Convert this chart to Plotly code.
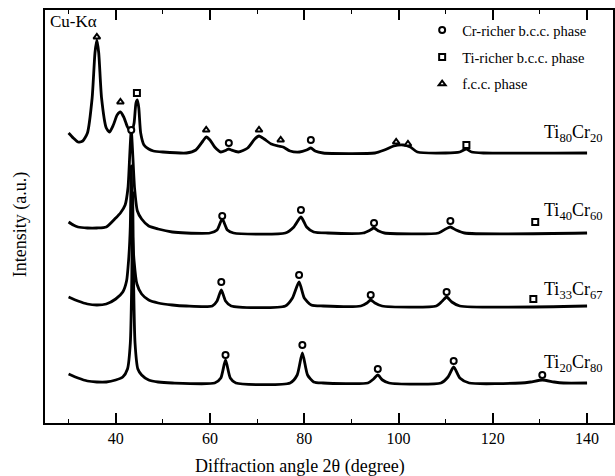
import plotly.graph_objects as go

# ---- data ----
# vertical offsets of the four patterns (a.u.)
offsets = {"Ti80Cr20": 270, "Ti40Cr60": 190, "Ti33Cr67": 117, "Ti20Cr80": 40}

ti80_x = [30, 31, 32, 33, 34, 35, 35.6, 36, 36.4, 37, 38, 38.7, 39.5, 40.3, 41, 41.7, 42.5, 43.3, 43.9,
          44.3, 44.6, 44.9, 45.3, 46, 47, 48, 50, 55, 57, 58.5, 59.2, 60, 61, 62.3, 63.5, 64, 64.5, 66,
          68, 69.5, 70.4, 71.5, 73, 74.5, 75.5, 77, 79, 80.5, 81.4, 82.3, 84, 95, 97, 99, 101, 102.5,
          104, 110, 113, 114.4, 115.5, 118, 140]
ti80_y = [20, 15, 11, 12, 20, 55, 100, 113, 100, 55, 25, 21, 28, 38, 41, 36, 26, 20, 30,
          50, 53, 45, 20, 8, 4, 2, 1, 0, 3, 12, 16, 13, 6, 1, 3, 4, 3, 1,
          5, 14, 17, 14, 9, 7, 6, 2, 1, 3, 5, 2, 0, 0, 3, 7, 8, 6,
          1, 0, 1, 4, 1, 0, 0]

ti40_x = [30, 31, 32, 34, 36, 38, 40, 41, 42, 42.6, 43.0, 43.3, 43.6, 44.0, 44.6, 45.5, 47, 49, 52, 55,
          60, 61.5, 62.6, 63.7, 65, 76, 77.8, 79.3, 80.5, 82, 85, 92.5, 94, 94.8, 95.8, 97, 108.5, 110,
          111, 112.2, 114, 140]
ti40_y = [11, 8, 6, 5, 5, 6, 15, 20, 28, 45, 80, 103, 80, 45, 22, 14, 7, 4, 1, 0,
          0, 3, 14, 3, 0, 0, 6, 16, 6, 1, 0, 0, 3, 5, 2, 0, 0, 4,
          6, 3, 0, 0]

ti33_x = [30, 32, 34, 36, 38, 40, 41.5, 42.3, 42.8, 43.1, 43.3, 43.5, 43.9, 44.5, 45.5, 47, 49, 52, 55,
          60.5, 61.5, 62.4, 63.3, 64.5, 76, 77.5, 78.9, 80, 81.5, 84, 92, 93.3, 94.1, 95, 96.5, 108,
          109.3, 110.2, 111.3, 113, 140]
ti33_y = [9, 5, 2, 1, 2, 7, 14, 25, 50, 80, 140, 80, 45, 22, 12, 6, 3, 1, 0,
          0, 5, 16, 5, 0, 0, 8, 24, 8, 1, 0, 0, 3, 6, 3, 0, 0,
          5, 9, 4, 0, 0]

ti20_x = [30, 32, 34, 36, 38, 40, 41.5, 42.5, 43.1, 43.4, 43.6, 43.8, 44.1, 44.7, 45.5, 47, 49, 52, 61,
          62.3, 63.3, 64.3, 65.5, 77, 78.5, 79.6, 80.7, 82, 84, 93.5, 94.7, 95.6, 96.6, 98, 109, 110.5,
          111.7, 113, 115, 126, 128, 130.5, 133, 135, 140]
ti20_y = [9, 5, 2, 1, 1, 3, 6, 14, 40, 100, 190, 100, 40, 14, 8, 3, 1, 0, 0,
          5, 23, 5, 0, 0, 8, 30, 8, 1, 0, 0, 4, 8, 3, 0, 0, 6,
          16, 5, 0, 0, 1, 3, 1, 0, 0]

# phase markers: (pattern, angle, height above baseline)
circle_pat = ["Ti80Cr20", "Ti80Cr20", "Ti40Cr60", "Ti40Cr60", "Ti40Cr60", "Ti40Cr60", "Ti40Cr60",
              "Ti33Cr67", "Ti33Cr67", "Ti33Cr67", "Ti33Cr67",
              "Ti20Cr80", "Ti20Cr80", "Ti20Cr80", "Ti20Cr80", "Ti20Cr80"]
circle_x = [64, 81.4, 43.3, 62.6, 79.3, 94.8, 111, 62.4, 78.9, 94.1, 110.2, 63.3, 79.6, 95.6, 111.7, 130.5]
circle_h = [10, 13, 103, 17, 23, 10, 12, 24, 31, 11, 14, 28, 38, 14, 22, 8]

square_pat = ["Ti80Cr20", "Ti80Cr20", "Ti40Cr60", "Ti33Cr67"]
square_x = [44.5, 114.4, 129, 128.6]
square_h = [60, 8, 11, 7]

tri_pat = ["Ti80Cr20"] * 7
tri_x = [36, 41, 59.2, 70.4, 75, 99.5, 102]
tri_h = [116, 51, 23, 23, 13, 11, 9]

labels = {"Ti80Cr20": "Ti<sub>80</sub>Cr<sub>20</sub>",
          "Ti40Cr60": "Ti<sub>40</sub>Cr<sub>60</sub>",
          "Ti33Cr67": "Ti<sub>33</sub>Cr<sub>67</sub>",
          "Ti20Cr80": "Ti<sub>20</sub>Cr<sub>80</sub>"}
label_h = {"Ti80Cr20": 6, "Ti40Cr60": 8, "Ti33Cr67": 2, "Ti20Cr80": 6}

x_ticks = [40, 60, 80, 100, 120, 140]

# ---- figure ----
FONT = "Liberation Serif, Times New Roman, serif"
fig = go.Figure()

curves = [("Ti80Cr20", ti80_x, ti80_y), ("Ti40Cr60", ti40_x, ti40_y),
          ("Ti33Cr67", ti33_x, ti33_y), ("Ti20Cr80", ti20_x, ti20_y)]
for name, xs, ys in curves:
    off = offsets[name]
    fig.add_trace(go.Scatter(x=xs, y=[v + off for v in ys], mode="lines",
                             line=dict(color="black", width=2.8, shape="spline", smoothing=0.6),
                             showlegend=False, hoverinfo="skip"))

def marker_trace(pats, xs, hs, symbol, name):
    return go.Scatter(x=xs, y=[offsets[p] + h for p, h in zip(pats, hs)], mode="markers",
                      marker=dict(symbol=symbol, size=6, color="white",
                                  line=dict(color="black", width=2)),
                      name=name, legendgroup=name)

fig.add_trace(marker_trace(circle_pat, circle_x, circle_h, "circle", "Cr-richer b.c.c. phase"))
fig.add_trace(marker_trace(square_pat, square_x, square_h, "square", "Ti-richer b.c.c. phase"))
fig.add_trace(marker_trace(tri_pat, tri_x, tri_h, "triangle-up", "f.c.c. phase"))

for name in offsets:
    fig.add_annotation(x=143.7, y=offsets[name] + label_h[name], xref="x", yref="y",
                       text=labels[name], showarrow=False, xanchor="right", yanchor="bottom",
                       font=dict(family=FONT, size=18, color="black"))

fig.add_annotation(x=0.005, y=1.0, xref="paper", yref="paper", text="Cu-Kα", showarrow=False,
                   xanchor="left", yanchor="top", font=dict(family=FONT, size=17, color="black"))

# axis titles
fig.add_annotation(x=0.449, y=0, xref="paper", yref="paper", yshift=-43,
                   text="Diffraction angle 2θ (degree)", showarrow=False,
                   xanchor="center", yanchor="middle", font=dict(family=FONT, size=18, color="black"))
fig.add_annotation(x=0, y=0.479, xref="paper", yref="paper", xshift=-25,
                   text="Intensity (a.u.)", showarrow=False, textangle=-90,
                   xanchor="center", yanchor="middle", font=dict(family=FONT, size=18, color="black"))

fig.update_layout(
    width=615, height=476,
    margin=dict(l=45, r=2, t=10, b=53, autoexpand=False),
    paper_bgcolor="white", plot_bgcolor="white",
    font=dict(family=FONT, color="black"),
    legend=dict(x=0.664, y=0.99, xanchor="left", yanchor="top", traceorder="grouped",
                bgcolor="rgba(0,0,0,0)", font=dict(family=FONT, size=14.5, color="black"),
                itemwidth=30, tracegroupgap=5),
    xaxis=dict(range=[25, 145.5], tickvals=x_ticks, ticks="inside", ticklen=10, tickwidth=1.5,
               tickcolor="black", showline=True, linecolor="black", linewidth=2, mirror="ticks",
               showgrid=False, zeroline=False, automargin=False,
               minor=dict(tickvals=[30, 50, 70, 90, 110, 130], ticks="inside", ticklen=4,
                          tickcolor="black", tickwidth=1),
               tickfont=dict(family=FONT, size=16, color="black")),
    yaxis=dict(range=[0, 413], showticklabels=False, ticks="", showline=True, linecolor="black",
               linewidth=2, mirror=True, showgrid=False, zeroline=False, automargin=False),
)

fig.write_html("out.html", config={"displayModeBar": False},
               post_script="document.body.style.margin='0px';document.body.style.overflow='hidden';")
